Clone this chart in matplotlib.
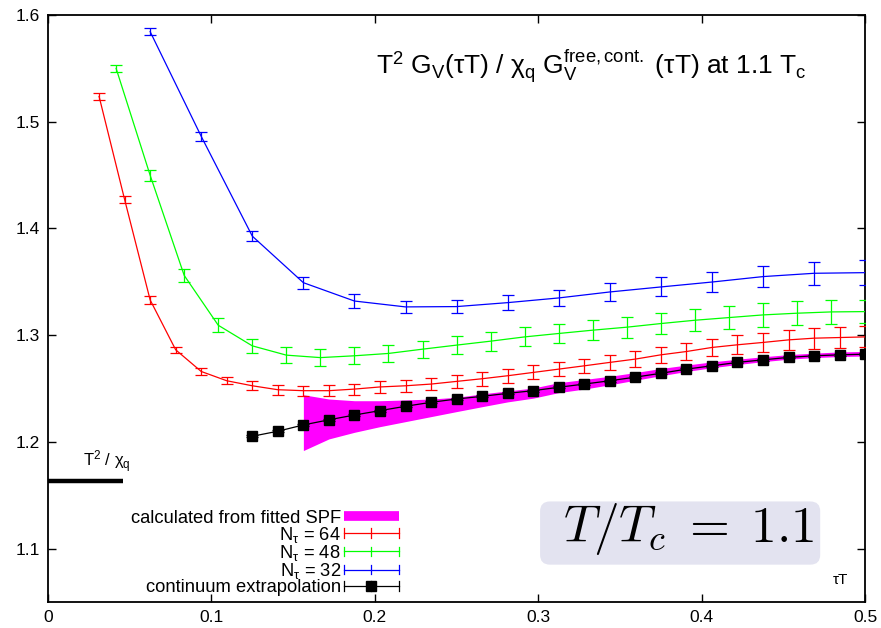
import numpy as np
import matplotlib

matplotlib.use("Agg")
import matplotlib.pyplot as plt
from matplotlib.lines import Line2D
from matplotlib.patches import FancyBboxPatch
from matplotlib.legend_handler import HandlerBase

plt.rcParams.update(
    {
        "font.family": ["Liberation Sans", "DejaVu Sans"],
        "font.size": 12.5,
        "mathtext.fontset": "custom",
        "mathtext.rm": "Liberation Sans",
        "mathtext.it": "Liberation Sans",
        "mathtext.bf": "Liberation Sans:bold",
    }
)

# tau*T = i / N_tau on the lattice
tau64 = np.arange(2, 33) / 64
g64 = [1.5237, 1.4271, 1.3330, 1.2863, 1.2660, 1.2573, 1.2526, 1.2489, 1.2480, 1.2480,
       1.2495, 1.2515, 1.2526, 1.2542, 1.2567, 1.2592, 1.2620, 1.2651, 1.2682, 1.2713,
       1.2745, 1.2776, 1.2816, 1.2847, 1.2885, 1.2910, 1.2932, 1.2956, 1.2972, 1.2978, 1.2984]
e64 = [0.0034, 0.0036, 0.0036, 0.0030, 0.0032, 0.0035, 0.0042, 0.0045, 0.0047, 0.0050,
       0.0052, 0.0055, 0.0058, 0.0060, 0.0062, 0.0064, 0.0065, 0.0066, 0.0066, 0.0068,
       0.0070, 0.0072, 0.0074, 0.0078, 0.0082, 0.0088, 0.0092, 0.0095, 0.0097, 0.0098, 0.0098]

tau48 = np.arange(2, 25) / 48
g48 = [1.5500, 1.4498, 1.3560, 1.3093, 1.2900, 1.2813, 1.2790, 1.2807, 1.2829, 1.2869,
       1.2907, 1.2944, 1.2984, 1.3016, 1.3047, 1.3075, 1.3109, 1.3140, 1.3165, 1.3190,
       1.3206, 1.3218, 1.3221]
e48 = [0.0034, 0.0050, 0.0062, 0.0067, 0.0067, 0.0075, 0.0080, 0.0080, 0.0080, 0.0080,
       0.0085, 0.0088, 0.0090, 0.0092, 0.0095, 0.0098, 0.0100, 0.0102, 0.0105, 0.0110,
       0.0110, 0.0110, 0.0110]

tau32 = np.arange(2, 17) / 32
g32 = [1.5844, 1.4863, 1.3928, 1.3492, 1.3320, 1.3265, 1.3268, 1.3305, 1.3349, 1.3405,
       1.3452, 1.3498, 1.3549, 1.3580, 1.3586]
e32 = [0.0033, 0.0039, 0.0050, 0.0056, 0.0062, 0.0060, 0.0064, 0.0070, 0.0075, 0.0084,
       0.0089, 0.0095, 0.0100, 0.0110, 0.0114]

tau_cont = np.arange(8, 33) / 64
g_cont = [1.2053, 1.2100, 1.2159, 1.2207, 1.2252, 1.2293, 1.2334, 1.2371, 1.2402, 1.2427,
          1.2455, 1.2480, 1.2512, 1.2542, 1.2573, 1.2607, 1.2643, 1.2682, 1.2713, 1.2745,
          1.2769, 1.2792, 1.2807, 1.2816, 1.2822]
e_cont = [0.0010] * len(g_cont)

tau_spf = np.arange(10, 33) / 64
spf_hi = [1.2442, 1.2402, 1.2386, 1.2386, 1.2393, 1.2402, 1.2418, 1.2450, 1.2478, 1.2505,
          1.2555, 1.2585, 1.2615, 1.2650, 1.2688, 1.2720, 1.2750, 1.2775, 1.2798, 1.2818,
          1.2832, 1.2843, 1.2848]
spf_lo = [1.1919, 1.2028, 1.2090, 1.2143, 1.2190, 1.2237, 1.2284, 1.2330, 1.2375, 1.2410,
          1.2462, 1.2495, 1.2535, 1.2578, 1.2620, 1.2660, 1.2695, 1.2725, 1.2752, 1.2775,
          1.2790, 1.2800, 1.2805]

chi_level = 1.163
chi_xmax = 0.046


class GnuplotErrHandler(HandlerBase):
    """gnuplot-like key sample: horizontal line with bars at both ends and middle."""

    def create_artists(self, legend, orig_handle, xdescent, ydescent, width, height,
                       fontsize, trans):
        line = orig_handle[0]
        c = line.get_color()
        y = height / 2 - ydescent
        x0, x1 = -xdescent, -xdescent + width
        xm = (x0 + x1) / 2
        h = 3.5
        arts = [Line2D([x0, x1], [y, y], color=c, lw=0.9)]
        for xx in (x0, xm, x1):
            arts.append(Line2D([xx, xx], [y - h, y + h], color=c, lw=0.9))
        if line.get_marker() not in (None, "None", ""):
            arts.append(Line2D([xm], [y], color=c, marker=line.get_marker(), ms=line.get_markersize(),
                               ls="none"))
        for a in arts:
            a.set_transform(trans)
        return arts


fig = plt.figure(figsize=(8.81, 6.28), dpi=100)
ax = fig.add_axes([0.0545, 0.0414, 0.9275, 0.9347])

ax.fill_between(tau_spf, spf_lo, spf_hi, color="#ff00ff", lw=0, zorder=1)

eb = dict(lw=0.9, elinewidth=0.9, capsize=4.5, capthick=0.9)
h64 = ax.errorbar(tau64, g64, yerr=e64, color="#ff0000", zorder=3, **eb)
h48 = ax.errorbar(tau48, g48, yerr=e48, color="#00ff00", zorder=3, **eb)
h32 = ax.errorbar(tau32, g32, yerr=e32, color="#0000ff", zorder=3, **eb)
hc = ax.errorbar(tau_cont, g_cont, yerr=e_cont, color="black", marker="s", ms=6.5, zorder=4, **eb)

ax.plot([0, chi_xmax], [chi_level, chi_level], color="black", lw=3.2, solid_capstyle="butt",
        clip_on=False, zorder=5)
ax.text(0.036, chi_level + 0.006, r"T$^2$ / χ$_\mathrm{q}$", ha="center", va="bottom", fontsize=12)

ax.text(0.3327, 1.544,
        r"T$^2$ G$_\mathrm{V}$(τT) / χ$_\mathrm{q}$ G$_\mathrm{V}^\mathrm{free,cont.}$ (τT) at 1.1 T$_\mathrm{c}$",
        ha="center", va="baseline", fontsize=19)

# rounded lavender label box (LaTeX inset in the original)
ax.add_patch(FancyBboxPatch((0.3011, 1.085), 0.1714, 0.0592,
                            boxstyle="round,pad=0,rounding_size=0.006",
                            mutation_aspect=1.53, fc="#e3e3f0", ec="none", zorder=2))
ax.text(0.3917, 1.1065, r"$T/T_c\;=\;1.1$", math_fontfamily="cm", fontsize=37,
        ha="center", va="baseline", zorder=3)

ax.text(0.4847, 1.071, "τT", ha="center", va="center", fontsize=11)

spf_handle = Line2D([], [], color="#ff00ff", lw=7, solid_capstyle="butt")
leg = ax.legend([spf_handle, h64, h48, h32, hc],
                ["calculated from fitted SPF", r"N$_\tau$ = 64", r"N$_\tau$ = 48",
                 r"N$_\tau$ = 32", "continuum extrapolation"],
                handler_map={type(h64): GnuplotErrHandler()},
                loc="lower right", bbox_to_anchor=(0.445, -0.012), markerfirst=False,
                frameon=False, handlelength=3.0, handletextpad=0.15, labelspacing=-0.1,
                borderpad=0.2, fontsize=13.2)

ax.set_xlim(0, 0.5)
ax.set_ylim(1.05, 1.6)
ax.set_xticks([0, 0.1, 0.2, 0.3, 0.4, 0.5])
ax.set_xticklabels(["0", "0.1", "0.2", "0.3", "0.4", "0.5"])
ax.set_yticks([1.1, 1.2, 1.3, 1.4, 1.5, 1.6])
ax.tick_params(direction="in", top=True, right=True, length=6, width=1.0, labelsize=12.5, pad=6)
for s in ax.spines.values():
    s.set_linewidth(1.3)

fig.savefig("out.png", dpi=100, facecolor="white")
